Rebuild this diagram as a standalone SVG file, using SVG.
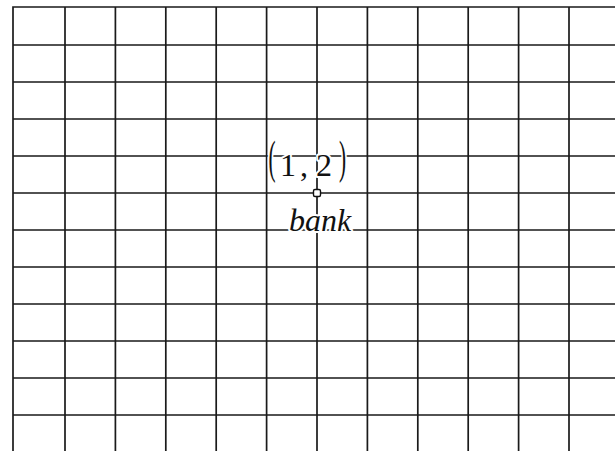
<svg xmlns="http://www.w3.org/2000/svg" width="615" height="451" viewBox="0 0 615 451">
<style>
.g{stroke:#1a1a1a;stroke-width:1.7;fill:none}
.t{font-family:"Liberation Serif","Times New Roman",serif;fill:#111;stroke:#fff;stroke-width:4;paint-order:stroke;stroke-linejoin:round}
</style>
<rect width="615" height="451" fill="#fff"/>
<g id="grid" class="g">
<path d="M13 451V7H615"/>
<path d="M65 7V451M115.4 7V451M165.8 7V451M216.2 7V451M266.6 7V451M317 7V451M367.4 7V451M417.8 7V451M468.2 7V451M518.6 7V451M569 7V451"/>
<path d="M13 45H615M13 82H615M13 119H615M13 156H615M13 193H615M13 230H615M13 267H615M13 304H615M13 341H615M13 378H615M13 415H615"/>
</g>
<g id="point-bank">
<text class="t" font-size="25" transform="translate(268.5,173) scale(0.85,1.85)">(</text>
<text class="t" font-size="32" x="280" y="176">1</text>
<text class="t" font-size="32" x="300" y="176">,</text>
<text class="t" font-size="32" x="316" y="176">2</text>
<text class="t" font-size="25" transform="translate(339,173) scale(0.85,1.85)">)</text>
<rect x="313.5" y="189.5" width="7" height="7" rx="1.5" fill="#fff" stroke="#111" stroke-width="1.4"/>
<text class="t" font-size="32" font-style="italic" x="289" y="231">bank</text>
</g>
</svg>
